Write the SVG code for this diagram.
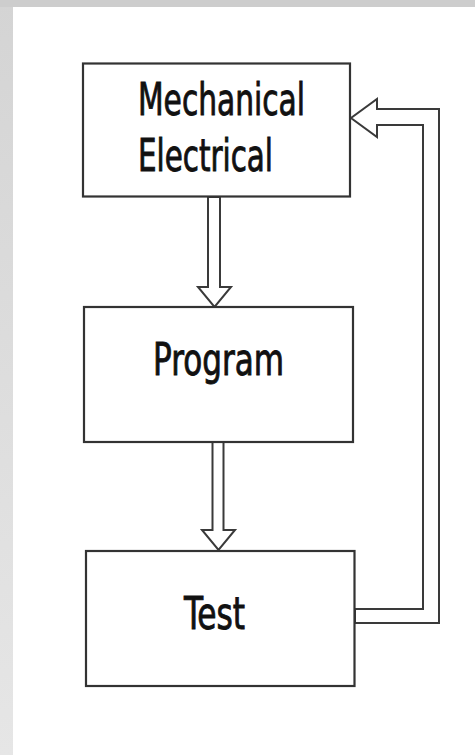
<svg xmlns="http://www.w3.org/2000/svg" width="475" height="755" viewBox="0 0 475 755">
<defs>
<linearGradient id="lg" x1="0" y1="0" x2="0" y2="1">
<stop offset="0" stop-color="#d4d4d4"/>
<stop offset="1" stop-color="#e6e6e6"/>
</linearGradient>
<style>
.box{fill:#fff;stroke:#333;stroke-width:2.2}
.arr{fill:#fff;stroke:#3a3a3a;stroke-width:2;stroke-linejoin:miter}
.lbl{font-family:"DejaVu Sans Condensed","DejaVu Sans","Liberation Sans",sans-serif;font-stretch:condensed;font-size:45px;fill:#111;stroke:#111;stroke-width:0.9}
</style>
</defs>
<rect x="0" y="0" width="475" height="755" fill="#fff"/>
<rect x="0" y="0" width="13" height="755" fill="url(#lg)"/>
<rect x="0" y="0" width="475" height="7" fill="#cdcdcd"/>
<g id="connectors">
<polygon class="arr" points="208,197 208,287 198,287 214.5,307 231,287 220,287 220,197"/>
<polygon class="arr" points="212.5,442 212.5,530 202,530 218.5,550 235,530 223.5,530 223.5,442"/>
<polygon class="arr" points="355,609 423,609 423,125 377,125 377,137 351,118 377,99 377,109 439,109 439,623 355,623"/>
</g>
<g id="node-mech">
<rect class="box" x="83" y="63.5" width="267" height="133"/>
<text class="lbl" x="138" y="115" textLength="167" lengthAdjust="spacingAndGlyphs">Mechanical</text>
<text class="lbl" x="138" y="171" textLength="135" lengthAdjust="spacingAndGlyphs">Electrical</text>
</g>
<g id="node-program">
<rect class="box" x="84" y="307" width="269" height="135"/>
<text class="lbl" x="153" y="375" textLength="131" lengthAdjust="spacingAndGlyphs">Program</text>
</g>
<g id="node-test">
<rect class="box" x="86" y="551" width="268.5" height="135"/>
<text class="lbl" x="184" y="629" textLength="61" lengthAdjust="spacingAndGlyphs">Test</text>
</g>
</svg>
